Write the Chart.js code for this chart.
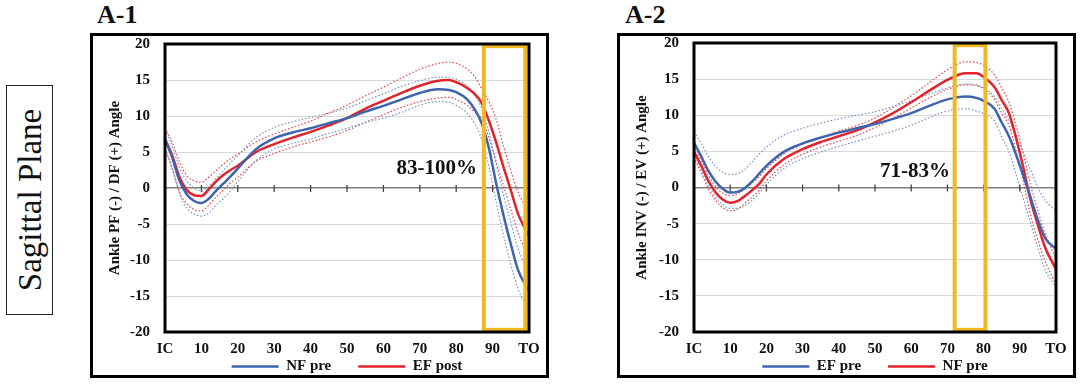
<!DOCTYPE html>
<html>
<head>
<meta charset="utf-8">
<script src="https://cdn.jsdelivr.net/npm/chart.js@4.4.1/dist/chart.umd.min.js"></script>
<style>
  body { margin: 0; width: 1083px; height: 389px; background: #fff; position: relative; overflow: hidden;
         font-family: "Liberation Serif", "Times New Roman", serif; }
  .frame { position: absolute; top: 33px; width: 459px; height: 345px; border: 3px solid #000; box-sizing: border-box; }
  .panel { position: absolute; top: 36px; }
  .title { position: absolute; top: 0; font-weight: bold; font-size: 26px; line-height: 30px; color: #111; }
  .side { position: absolute; left: 6px; top: 85px; width: 47px; height: 230px; border: 1.5px solid #222; box-sizing: border-box; }
  .side span { position: absolute; left: 50%; top: 50%; transform: translate(-50%, -50%) rotate(-90deg);
               white-space: nowrap; font-family: "Liberation Serif", serif; font-size: 33px; color: #111; }
</style>
</head>
<body>
<div class="side"><span>Sagittal Plane</span></div>
<div class="title" style="left:97px">A-1</div>
<div class="title" style="left:625px">A-2</div>
<div class="frame" style="left:90px"></div>
<div class="frame" style="left:617px"></div>
<canvas id="chartA1" class="panel" style="left:93px" width="453" height="352"></canvas>
<canvas id="chartA2" class="panel" style="left:620px" width="453" height="352"></canvas>

<script>
// ---- data (% of stance, IC .. TO) ----
const pct = [0, 2, 4, 6, 8, 10, 12, 14, 16, 18, 20, 25, 30, 35, 40, 45, 50, 55, 60, 65, 70, 75, 78, 80, 83, 85, 87, 89, 91, 93, 95, 97, 100];
const xTickLabels = ['IC', '10', '20', '30', '40', '50', '60', '70', '80', '90', 'TO'];

// A-1: ankle PF/DF
const a1Labels = ['NF pre', 'EF post'];
const a1NfMean  = [6.8, 4.2, 1.0, -0.9, -1.8, -2.1, -1.5, -0.4, 0.6, 1.6, 2.7, 5.4, 6.9, 7.7, 8.3, 9.0, 9.7, 10.6, 11.4, 12.3, 13.2, 13.7, 13.6, 13.3, 12.3, 11.0, 9.0, 5.5, 0.6, -3.8, -7.8, -11.4, -14.3];
const a1NfUpper = [8.0, 5.8, 2.8, 1.0, 0.0, -0.4, 0.2, 1.3, 2.4, 3.5, 4.5, 7.0, 8.4, 9.2, 9.8, 10.4, 11.1, 12.1, 13.1, 14.1, 14.9, 15.4, 15.4, 15.1, 14.2, 13.0, 11.0, 7.8, 3.3, -1.0, -4.8, -8.4, -12.0];
const a1NfLower = [5.6, 2.6, -0.8, -2.8, -3.6, -3.9, -3.5, -2.4, -1.5, -0.4, 0.9, 3.8, 5.4, 6.2, 6.8, 7.6, 8.3, 9.1, 9.7, 10.5, 11.5, 12.0, 11.9, 11.5, 10.4, 9.0, 6.8, 3.0, -2.0, -6.6, -10.6, -14.0, -17.2];
const a1EfMean  = [6.8, 4.5, 1.5, -0.3, -1.0, -1.1, -0.2, 0.9, 1.8, 2.5, 3.1, 5.0, 6.1, 7.0, 7.8, 8.7, 9.7, 11.0, 12.1, 13.2, 14.2, 14.9, 15.0, 14.7, 13.9, 13.1, 11.8, 9.3, 6.3, 2.9, -0.3, -3.6, -6.7];
const a1EfUpper = [8.3, 6.3, 3.6, 1.7, 1.0, 0.8, 1.5, 2.4, 3.3, 4.1, 4.7, 6.4, 7.5, 8.4, 9.3, 10.4, 11.5, 12.8, 14.0, 15.3, 16.5, 17.3, 17.5, 17.3, 16.5, 15.5, 13.8, 12.0, 9.5, 5.8, 2.4, -0.6, -3.3];
const a1EfLower = [5.4, 2.8, -0.6, -2.2, -3.0, -3.2, -2.4, -1.3, -0.3, 0.7, 1.5, 3.7, 4.8, 5.7, 6.4, 7.1, 8.0, 9.1, 10.2, 11.2, 12.0, 12.5, 12.6, 12.3, 11.5, 10.6, 9.6, 7.0, 3.6, 0.3, -3.0, -6.2, -9.8];

// A-2: ankle INV/EV
const a2Labels = ['EF pre', 'NF pre'];
const a2EfMean  = [6.2, 4.3, 2.3, 0.8, -0.2, -0.7, -0.6, -0.1, 0.8, 1.9, 3.0, 5.0, 6.1, 6.9, 7.6, 8.2, 8.8, 9.5, 10.3, 11.3, 12.2, 12.6, 12.4, 12.0, 10.9, 9.0, 7.1, 4.5, 1.6, -1.4, -4.5, -7.0, -8.5];
const a2EfUpper = [7.7, 6.1, 4.3, 2.9, 2.1, 1.8, 1.9, 2.5, 3.5, 4.6, 5.6, 7.3, 8.2, 8.9, 9.5, 10.0, 10.5, 11.2, 12.0, 12.9, 13.8, 14.3, 14.2, 13.8, 12.6, 11.0, 9.3, 7.2, 4.8, 2.4, 0.0, -1.8, -3.2];
const a2EfLower = [4.8, 2.5, 0.3, -1.3, -2.4, -2.9, -2.9, -2.5, -1.8, -0.8, 0.4, 2.7, 4.0, 4.9, 5.7, 6.4, 7.1, 7.8, 8.6, 9.7, 10.6, 10.9, 10.6, 10.2, 9.2, 7.0, 5.0, 1.8, -1.6, -5.0, -8.4, -11.4, -13.8];
const a2NfMean  = [5.0, 3.0, 0.9, -0.7, -1.7, -2.1, -1.9, -1.2, -0.4, 0.5, 1.8, 4.0, 5.3, 6.3, 7.1, 7.9, 9.0, 10.3, 11.8, 13.4, 14.9, 15.8, 15.8, 15.3, 13.9, 12.1, 10.3, 6.8, 2.7, -1.8, -5.2, -8.3, -11.3];
const a2NfUpper = [5.9, 3.8, 1.7, 0.1, -0.8, -1.1, -0.9, -0.2, 0.6, 1.5, 2.6, 4.7, 6.0, 7.0, 7.8, 8.6, 9.6, 11.1, 12.7, 14.5, 16.3, 17.4, 17.3, 16.9, 15.6, 13.8, 11.8, 8.5, 4.6, 0.3, -3.2, -6.4, -9.8];
const a2NfLower = [4.2, 2.0, -0.2, -1.8, -2.8, -3.2, -3.0, -2.2, -1.3, -0.4, 0.9, 3.2, 4.6, 5.6, 6.4, 7.2, 8.3, 9.6, 11.0, 12.4, 13.6, 14.2, 14.1, 13.6, 12.2, 10.3, 8.6, 5.0, 0.8, -3.9, -7.3, -10.2, -13.4];

const BLUE = '#3D64AE', RED = '#E1232B';
const BLUE_SD = '#7393CF', RED_SD = '#E4434B';
const SERIF = '"Liberation Serif", "Times New Roman", serif';

Chart.defaults.font.family = SERIF;
Chart.defaults.color = '#111';

// builds {x,y} points from the shared % axis
function series(vals) {
  return pct.map((p, i) => ({ x: p, y: vals[i] }));
}

function meanLine(label, vals, color) {
  return { label, data: series(vals), borderColor: color, backgroundColor: color,
           borderWidth: 2.5, pointRadius: 0, cubicInterpolationMode: 'monotone', fill: false };
}

function sdLine(vals, color) {
  return { label: '', data: series(vals), borderColor: color, borderWidth: 1.2, borderDash: [1.5, 2],
           pointRadius: 0, cubicInterpolationMode: 'monotone', fill: false };
}

// zero-line ticks, highlighted window, note text, plot border
const gaitMarks = {
  id: 'gaitMarks',
  afterDraw(chart, args, opts) {
    const { ctx, chartArea: a, scales: { x, y } } = chart;
    ctx.save();
    const y0 = y.getPixelForValue(0);
    ctx.strokeStyle = '#444';
    ctx.lineWidth = 1.3;
    x.ticks.forEach(t => {
      const px = x.getPixelForValue(t.value);
      ctx.beginPath();
      ctx.moveTo(px, y0 - 3);
      ctx.lineTo(px, y0 + 4);
      ctx.stroke();
    });

    const l = x.getPixelForValue(opts.range[0]), r = x.getPixelForValue(opts.range[1]);
    const t = y.getPixelForValue(19.7), b = y.getPixelForValue(-19.7);
    ctx.strokeStyle = '#F2B824';
    ctx.lineWidth = 4;
    ctx.strokeRect(l, t, r - l, b - t);

    ctx.font = 'bold 21px ' + SERIF;
    ctx.fillStyle = '#111';
    ctx.textAlign = 'right';
    ctx.textBaseline = 'middle';
    ctx.fillText(opts.note, x.getPixelForValue(opts.noteAt[0]), y.getPixelForValue(opts.noteAt[1]));

    ctx.strokeStyle = '#000';
    ctx.lineWidth = 3;
    ctx.strokeRect(a.left, a.top, a.width, a.height);
    ctx.restore();
  }
};

function makeGaitChart(id, labels, blue, red, yTitle, marks, axisWidth, rightPad, topPad) {
  const canvas = document.getElementById(id);
  return new Chart(canvas, {
    type: 'line',
    data: {
      datasets: [
        meanLine(labels[0], blue[0], BLUE),
        meanLine(labels[1], red[0], RED),
        sdLine(blue[1], BLUE_SD), sdLine(blue[2], BLUE_SD),
        sdLine(red[1], RED_SD), sdLine(red[2], RED_SD)
      ]
    },
    options: {
      responsive: false,
      animation: false,
      devicePixelRatio: 1,
      layout: { padding: { top: topPad, right: rightPad, bottom: 4, left: 0 } },
      scales: {
        x: {
          type: 'linear', min: 0, max: 100,
          // mirrored labels pushed below the plot (keeps the axis box at zero height)
          ticks: { stepSize: 10, padding: -26, mirror: true, maxRotation: 0, autoSkip: false,
                   font: { size: 15, weight: 'bold' },
                   callback: v => xTickLabels[Math.round(v / 10)] },
          grid: { display: false },
          border: { display: false },
          afterFit: s => { s.height = 0; s.paddingLeft = 0; s.paddingRight = 0; }
        },
        y: {
          min: -20, max: 20,
          ticks: { stepSize: 5, padding: 15, font: { size: 15, weight: 'bold' } },
          grid: { drawTicks: false,
                  color: c => c.tick && c.tick.value === 0 ? '#7F7F7F' : '#D9D9D9',
                  lineWidth: c => c.tick && c.tick.value === 0 ? 1.5 : 1 },
          border: { display: false },
          title: { display: true, text: yTitle, font: { size: 15, weight: 'bold' }, padding: { top: 13, bottom: 0 } },
          afterFit: s => { s.width = axisWidth; s.paddingTop = 0; s.paddingBottom = 0; }
        }
      },
      plugins: {
        legend: {
          position: 'bottom', fullSize: false,
          labels: { usePointStyle: true, pointStyle: 'line', pointStyleWidth: 47, padding: 27,
                    font: { size: 15, weight: 'bold' }, color: '#111',
                    filter: item => item.datasetIndex < 2 }
        },
        tooltip: { enabled: false },
        gaitMarks: marks
      }
    },
    plugins: [gaitMarks]
  });
}

makeGaitChart('chartA1', a1Labels,
  [a1NfMean, a1NfUpper, a1NfLower], [a1EfMean, a1EfUpper, a1EfLower],
  'Ankle PF (-) / DF (+) Angle',
  { range: [87.6, 99.0], note: '83-100%', noteAt: [85.7, 2.7] }, 72, 17, 8);

makeGaitChart('chartA2', a2Labels,
  [a2EfMean, a2EfUpper, a2EfLower], [a2NfMean, a2NfUpper, a2NfLower],
  'Ankle INV (-) / EV (+) Angle',
  { range: [72.0, 80.5], note: '71-83%', noteAt: [70.7, 2.2] }, 74, 17, 7);
</script>
</body>
</html>
